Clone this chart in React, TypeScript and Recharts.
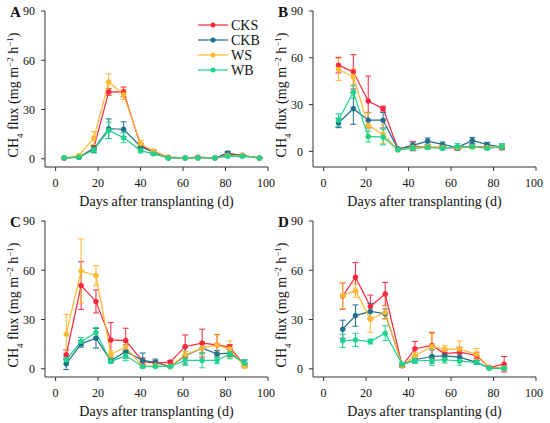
import React from 'react';
import { LineChart, Line, XAxis, YAxis, ErrorBar } from 'recharts';

const seriesNames = ['CKS', 'CKB', 'WS', 'WB'];
const seriesColors = ['#F8263C', '#1F6E8C', '#FFB92E', '#1ED38A'];
const panelLetters = ['A', 'B', 'C', 'D'];
const xTicks = [0, 20, 40, 60, 80, 100];
const yTicks = [0, 30, 60, 90];

// Panel A
const daysA = [4, 11, 18, 25, 32, 40, 46, 53, 61, 67, 75, 81, 88, 96];
const cksA = [0.5, 1, 6.5, 40.7, 40.7, 8, 4.5, 1, 0.5, 1, 0.5, 3, 2, 0.5];
const cksAErr = [0.3, 0.5, 1.5, 2, 3, 1.5, 1, 0.3, 0.3, 0.3, 0.3, 1, 0.5, 0.3];
const ckbA = [0.5, 1, 6, 18.3, 18, 7.5, 4, 0.5, 0.5, 0.5, 0.5, 3.5, 2, 0.5];
const ckbAErr = [0.3, 0.5, 2, 6, 4.5, 1.5, 1, 0.3, 0.3, 0.3, 0.3, 1, 0.5, 0.3];
const wsA = [0.5, 2, 12.6, 46.8, 39.1, 9.2, 4.6, 1, 0.5, 0.5, 0.5, 2, 2, 0.5];
const wsAErr = [0.3, 0.5, 4, 5, 3, 2, 1, 0.3, 0.3, 0.3, 0.3, 0.5, 0.5, 0.3];
const wbA = [0.5, 1, 5.5, 17.3, 12.8, 5, 3, 0.5, 0.5, 0.5, 0.5, 1.5, 1.5, 0.5];
const wbAErr = [0.3, 0.5, 2, 5, 3, 1.5, 1, 0.3, 0.3, 0.3, 0.3, 0.5, 0.5, 0.3];

// Panel B
const daysB = [7, 14, 21, 28, 35, 42, 49, 56, 63, 70, 77, 84];
const cksB = [55.3, 51, 32.3, 27.4, 1.5, 3.4, 2.8, 2.6, 2.1, 3.2, 2.8, 2.4];
const cksBErr = [5, 11, 16, 1.5, 0.5, 3, 1, 1, 1, 1, 1, 1];
const ckbB = [18.2, 27.4, 20, 20, 1.5, 3.9, 6.6, 4.5, 2.4, 7, 4.3, 2.8];
const ckbBErr = [3, 10, 5, 5, 0.5, 1.5, 2, 1.5, 1.5, 2, 1.5, 1.5];
const wsB = [52.5, 47.8, 16.7, 11, 1, 2.5, 3, 2.5, 2.5, 3, 2.5, 3];
const wsBErr = [7, 5, 8, 6, 0.5, 1, 1, 1, 1, 1, 1, 1];
const wbB = [20, 38.1, 9.6, 9.2, 1, 2, 2.5, 2, 3, 3, 2, 3];
const wbBErr = [4, 4, 3.5, 5, 0.5, 1, 1, 1, 2, 1, 1, 2];

// Panel C
const daysC = [5, 12, 19, 26, 33, 41, 47, 54, 61, 69, 76, 82, 89];
const cksC = [8.5, 50.7, 41, 17.6, 17.2, 4.5, 3.4, 4.1, 13.6, 15.6, 14.6, 13.2, 2];
const cksCErr = [3, 14.5, 7, 10.5, 7.5, 2, 1.5, 1, 7, 8.5, 6.3, 1.5, 1];
const ckbC = [3, 15.2, 18.6, 4.9, 10.5, 5.1, 3.9, 1.4, 7.9, 12.6, 9.1, 9.5, 3.4];
const ckbCErr = [3.5, 2, 6, 1, 4, 4.5, 2, 0.5, 5, 3, 2, 2, 2];
const wsC = [21.1, 59.6, 56.8, 8.9, 13.2, 1.4, 2, 1.4, 8.5, 12.6, 14.6, 12, 1.5];
const wsCErr = [12, 19.5, 6, 2, 3, 0.5, 1, 0.5, 2, 4, 6, 5, 1];
const wbC = [5.5, 16.6, 22.1, 4.5, 7.9, 1.4, 1.4, 1.4, 5.1, 5.1, 5.1, 9.1, 3.4];
const wbCErr = [2, 2.5, 3, 1, 3, 0.5, 0.5, 0.5, 3, 4.5, 2, 3, 2];

// Panel D
const daysD = [9, 15, 22, 29, 37, 43, 51, 57, 64, 72, 78, 85];
const cksD = [44.3, 55.8, 37.9, 45.6, 1.8, 12.2, 14.2, 9.1, 10.1, 8.1, 0.8, 2.8];
const cksDErr = [8, 9, 7, 7, 1, 4.5, 8, 2, 3, 2, 0.5, 4.7];
const ckbD = [24.1, 32.4, 34.9, 33.5, 2.5, 5.5, 7.5, 7.9, 7.1, 3.9, 0.5, 0.5];
const ckbDErr = [5.5, 6.5, 5, 3, 1, 2, 4, 2, 2, 1, 0.5, 0.5];
const wsD = [44.6, 47.6, 30.2, 34.3, 2, 7.9, 13.6, 12, 12, 8.9, 0.5, 0.5];
const wsDErr = [8, 4, 8, 4, 1, 2, 8, 2, 5, 3.5, 0.5, 0.5];
const wbD = [17, 17.6, 16.6, 21.7, 2.8, 4.9, 5.1, 5.5, 4.7, 3.9, 0.3, 0.3];
const wbDErr = [4, 4, 1.5, 4.5, 1, 1.5, 3, 2, 2.5, 1, 0.3, 1];

const build = (days: number[], vals: number[][], errs: number[][]) =>
  days.map((d, i) => {
    const row: Record<string, number> = { day: d };
    seriesNames.forEach((n, k) => {
      row[n] = vals[k][i];
      row[n + '_e'] = errs[k][i];
    });
    return row;
  });

const panels = [
  { data: build(daysA, [cksA, ckbA, wsA, wbA], [cksAErr, ckbAErr, wsAErr, wbAErr]), yMin: -5, left: 0, top: 0 },
  { data: build(daysB, [cksB, ckbB, wsB, wbB], [cksBErr, ckbBErr, wsBErr, wbBErr]), yMin: -10, left: 268, top: 0 },
  { data: build(daysC, [cksC, ckbC, wsC, wbC], [cksCErr, ckbCErr, wsCErr, wbCErr]), yMin: -5, left: 0, top: 210 },
  { data: build(daysD, [cksD, ckbD, wsD, wbD], [cksDErr, ckbDErr, wsDErr, wbDErr]), yMin: -5, left: 268, top: 210 },
];

const FONT = '"Liberation Serif", "Times New Roman", serif';
const AXIS = '#333333';
const W = 275;
const H = 212;
const M = { top: 11, right: 7, left: 15, bottom: 5 };

const tickStyle = { fontFamily: FONT, fontSize: 12, fill: '#111' };

const Legend4 = () => (
  <g>
    {seriesNames.map((n, i) => (
      <g key={n}>
        <line x1={198} x2={228} y1={25 + i * 15} y2={25 + i * 15} stroke={seriesColors[i]} strokeWidth={1.2} />
        <circle cx={213} cy={25 + i * 15} r={2.5} fill={seriesColors[i]} />
        <text x={231} y={30 + i * 15} fontFamily={FONT} fontSize={14} fill="#111">{n}</text>
      </g>
    ))}
  </g>
);

const Panel = ({ p, idx }: { p: any; idx: number }) => (
  <div style={{ position: 'absolute', left: p.left, top: p.top, width: W, height: H }}>
    <LineChart width={W} height={H} data={p.data} margin={M}>
      <XAxis
        dataKey="day"
        type="number"
        domain={[-5, 100]}
        ticks={xTicks}
        allowDataOverflow
        stroke={AXIS}
        tickSize={4}
        tickMargin={7}
        height={40}
        tick={tickStyle}
        tickLine={{ stroke: AXIS }}
        axisLine={{ stroke: AXIS }}
      />
      <XAxis xAxisId="top" orientation="top" type="number" domain={[-5, 100]} height={0} tick={false} tickLine={false} axisLine={{ stroke: AXIS }} />
      <YAxis
        type="number"
        domain={[p.yMin, 90]}
        ticks={yTicks}
        allowDataOverflow
        width={30}
        tickSize={4}
        tickMargin={6}
        tick={tickStyle}
        tickLine={{ stroke: AXIS }}
        axisLine={{ stroke: AXIS }}
      />
      <YAxis yAxisId="right" orientation="right" type="number" domain={[p.yMin, 90]} width={0} tick={false} tickLine={false} axisLine={{ stroke: AXIS }} />
      {seriesNames.map((n, i) => (
        <Line
          key={n}
          dataKey={n}
          stroke={seriesColors[i]}
          strokeWidth={1.2}
          dot={{ r: 2.5, fill: seriesColors[i], stroke: seriesColors[i], strokeWidth: 0.5 }}
          activeDot={false}
          isAnimationActive={false}
        >
          <ErrorBar dataKey={n + '_e'} width={3} stroke={seriesColors[i]} strokeWidth={1} direction="y" isAnimationActive={false} />
        </Line>
      ))}
      <text x={10} y={17} fontFamily={FONT} fontSize={15} fontWeight="bold" fill="#111">{panelLetters[idx]}</text>
      <text x={156.5} y={206} textAnchor="middle" fontFamily={FONT} fontSize={14} fill="#111">Days after transplanting (d)</text>
      <text transform={`translate(18, 95) rotate(-90)`} textAnchor="middle" fontFamily={FONT} fontSize={14} fill="#111">
        CH<tspan baselineShift="sub" fontSize={9}>4</tspan>
        <tspan> flux (mg m</tspan>
        <tspan baselineShift="super" fontSize={9}>−2</tspan>
        <tspan> h</tspan>
        <tspan baselineShift="super" fontSize={9}>−1</tspan>
        <tspan>)</tspan>
      </text>
      {idx === 0 ? <Legend4 /> : null}
    </LineChart>
  </div>
);

export default function App() {
  return (
    <div style={{ position: 'absolute', left: 0, top: 0, width: 550, height: 423, background: '#fff', overflow: 'hidden' }}>
      {panels.map((p, i) => (
        <Panel key={i} p={p} idx={i} />
      ))}
    </div>
  );
}
